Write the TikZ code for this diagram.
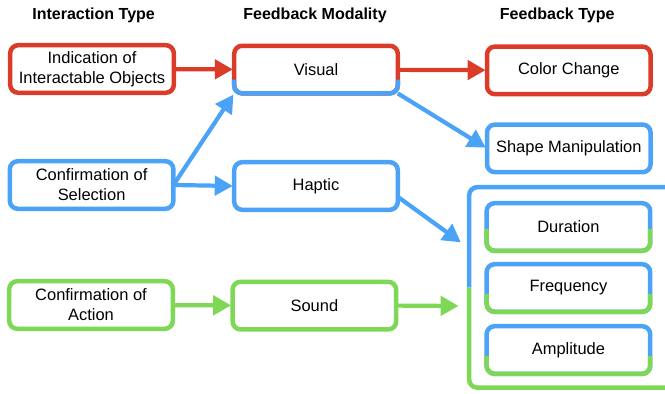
\documentclass[tikz,border=0pt]{standalone}
\usepackage{fontspec}
\setmainfont{Liberation Sans}
\usepackage{xcolor}
\usepackage{tikz}
\usetikzlibrary{positioning, calc, arrows.meta}

\definecolor{fbred}{HTML}{DB3B29}
\definecolor{fbblue}{HTML}{4BA3F7}
\definecolor{fbgreen}{HTML}{7FD855}

\begin{document}
\begin{tikzpicture}[
    thick,
    box/.style={draw, rectangle, rounded corners=0.2cm, line width=3.2pt, outer sep=0pt, minimum width=4.09cm, minimum height=1.19cm, align=center, fill=white, font=\fontsize{11.7}{14.2}\selectfont},
    header/.style={font=\bfseries\fontsize{11.4}{13.7}\selectfont, text=black},
    lowerpart/.style={line width=3.2pt, rounded corners=0.2cm},
    group_line/.style={line width=3.2pt, rounded corners=0.2cm},
    flow/.style={line width=3pt, -{Triangle[length=0.45cm, width=0.48cm]}, shorten >=1pt}
]
    \useasboundingbox (0, 0) rectangle (16.625, -9.85);

    % ================= COLUMN HEADERS =================
    \node[header] (h1) at (2.34, -0.375) {Interaction Type};
    \node[header] (h2) at (7.875, -0.375) {Feedback Modality};
    \node[header] (h3) at (13.93, -0.375) {Feedback Type};

    % ================= INTERACTION TYPE =================
    \node[box, draw=fbred] (ind) at (2.3, -1.725) {Indication of\\Interactable Objects};
    \node[box, draw=fbblue] (sel) at (2.29, -4.625) {Confirmation of\\Selection};
    \node[box, draw=fbgreen] (act) at (2.275, -7.625) {Confirmation of\\Action};

    % ================= FEEDBACK MODALITY =================
    \node[box, draw=fbred] (vis) at (7.9, -1.74) {Visual};
    \draw[lowerpart, fbblue] ($(vis.west)+(0,-0.25)$) |- (vis.south) -| ($(vis.east)+(0,-0.25)$);
    \node[box, draw=fbblue] (hap) at (7.9, -4.65) {Haptic};
    \node[box, draw=fbgreen] (snd) at (7.86, -7.64) {Sound};

    % ================= FEEDBACK TYPE =================
    \node[box, draw=fbred] (col) at (14.22, -1.76) {Color Change};
    \node[box, draw=fbblue] (shp) at (14.22, -3.71) {Shape Manipulation};

    % open bracket round the haptic/sound parameters
    \draw[group_line, fbblue] (16.7, -4.68) -| (11.73, -7.19);
    \draw[group_line, fbgreen] (11.73, -7.19) |- (16.7, -9.69);
    \coordinate (hapin) at (11.55, -6.08);
    \coordinate (sndin) at (11.5, -7.65);

    \node[box, draw=fbblue] (dur) at (14.21, -5.675) {Duration};
    \draw[lowerpart, fbgreen] ($(dur.west)+(0,-0.05)$) |- (dur.south) -| ($(dur.east)+(0,-0.05)$);
    \node[box, draw=fbblue] (frq) at (14.21, -7.2) {Frequency};
    \draw[lowerpart, fbgreen] ($(frq.west)+(0,-0.15)$) |- (frq.south) -| ($(frq.east)+(0,-0.15)$);
    \node[box, draw=fbblue] (amp) at (14.21, -8.75) {Amplitude};
    \draw[lowerpart, fbgreen] ($(amp.west)+(0,-0.15)$) |- (amp.south) -| ($(amp.east)+(0,-0.15)$);

    % Connections
    \draw[flow, fbred] (ind) -- (vis);
    \draw[flow, fbred] (vis) -- (col);
    \draw[flow, fbblue] (vis.south east) -- (shp.west);
    \draw[flow, fbblue] (sel.east) -- (vis.south west);
    \draw[flow, fbblue] (sel.east) -- (hap.west);
    \draw[flow, fbblue] ($(hap.east)+(0,-0.27)$) -- (hapin);
    \draw[flow, fbgreen] (act) -- (snd);
    \draw[flow, fbgreen] (snd.east) -- (sndin);

\end{tikzpicture}
\end{document}
